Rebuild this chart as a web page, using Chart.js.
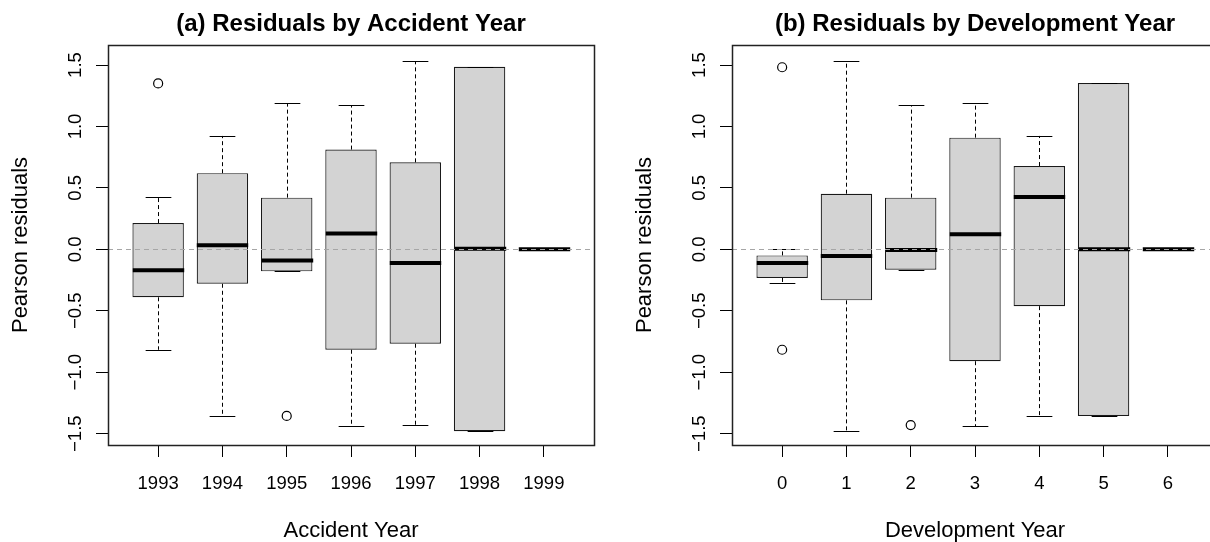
<!DOCTYPE html>
<html>
<head>
<meta charset="utf-8">
<script src="https://cdn.jsdelivr.net/npm/chart.js@4.4.0/dist/chart.umd.min.js"></script>
<style>
  html, body { margin: 0; padding: 0; background: #fff; }
  #page { position: relative; width: 1210px; height: 542px; overflow: hidden; }
  canvas { position: absolute; top: 0; }
</style>
</head>
<body>
<div id="page">
  <canvas id="accChart" width="605" height="542" style="left:0"></canvas>
  <canvas id="devChart" width="605" height="542" style="left:624px"></canvas>
</div>
<script>
// graduations de l'axe y
const yTicks = [-1.5, -1.0, -0.5, 0.0, 0.5, 1.0, 1.5];
const yTickLabels = ["\u22121.5", "\u22121.0", "\u22120.5", "0.0", "0.5", "1.0", "1.5"];

// (a) par année d'accident
const accYears = ["1993", "1994", "1995", "1996", "1997", "1998", "1999"];
const accLower = [-0.817, -1.355, -0.179, -1.439, -1.43, -1.48, 0];
const accQ1 = [-0.39, -0.28, -0.179, -0.817, -0.768, -1.48, 0];
const accMedian = [-0.17, 0.033, -0.09, 0.13, -0.11, 0.005, 0];
const accQ3 = [0.214, 0.62, 0.421, 0.812, 0.708, 1.485, 0];
const accUpper = [0.426, 0.923, 1.189, 1.173, 1.531, 1.485, 0];
const accOutCat = ["1993", "1995"];
const accOutVal = [1.35, -1.355];

// (b) par année de développement
const devYears = ["0", "1", "2", "3", "4", "5", "6"];
const devLower = [-0.277, -1.48, -0.165, -1.439, -1.355, -1.355, 0];
const devQ1 = [-0.233, -0.415, -0.165, -0.91, -0.462, -1.355, 0];
const devMedian = [-0.11, -0.054, -0.005, 0.122, 0.426, 0.0, 0];
const devQ3 = [-0.049, 0.453, 0.421, 0.909, 0.678, 1.354, 0];
const devUpper = [0.0, 1.531, 1.173, 1.189, 0.923, 1.354, 0];
const devOutCat = ["0", "0", "2"];
const devOutVal = [1.482, -0.817, -1.43];

Chart.defaults.font.family = "'Liberation Sans', Arial, sans-serif";
Chart.defaults.color = "#000";

// moustaches, médianes, ligne zéro, cadre et étiquettes y
function decor(cats, lower, q1, med, q3, upper) {
  return {
    id: "decor",
    afterDatasetsDraw(chart) {
      const { ctx, chartArea: a, scales: { x, y } } = chart;
      const bars = chart.getDatasetMeta(0).data;
      ctx.save();
      ctx.strokeStyle = "#000";
      cats.forEach((c, i) => {
        const cx = Math.round(x.getPixelForValue(i + 1)) + 0.5;
        const half = bars[i].width / 2;
        ctx.lineWidth = 1;
        ctx.setLineDash([4, 3]);
        ctx.beginPath();
        if (upper[i] > q3[i]) {
          ctx.moveTo(cx, y.getPixelForValue(q3[i]));
          ctx.lineTo(cx, y.getPixelForValue(upper[i]));
        }
        if (lower[i] < q1[i]) {
          ctx.moveTo(cx, y.getPixelForValue(q1[i]));
          ctx.lineTo(cx, y.getPixelForValue(lower[i]));
        }
        ctx.stroke();
        ctx.setLineDash([]);
        ctx.beginPath();
        [lower[i], upper[i]].forEach(v => {
          const py = Math.round(y.getPixelForValue(v)) + 0.5;
          ctx.moveTo(cx - half / 2, py);
          ctx.lineTo(cx + half / 2, py);
        });
        ctx.stroke();
        ctx.lineWidth = 4;
        ctx.beginPath();
        const pm = y.getPixelForValue(med[i]);
        ctx.moveTo(cx - half, pm);
        ctx.lineTo(cx + half, pm);
        ctx.stroke();
      });

      // ligne horizontale à zéro
      const p0 = Math.round(y.getPixelForValue(0)) + 0.5;
      ctx.strokeStyle = "#a6a6a6";
      ctx.lineWidth = 1;
      ctx.setLineDash([5, 4]);
      ctx.beginPath();
      ctx.moveTo(a.left, p0);
      ctx.lineTo(a.right, p0);
      ctx.stroke();

      ctx.setLineDash([]);
      ctx.strokeStyle = "#222";
      ctx.lineWidth = 1.5;
      ctx.strokeRect(a.left + 0.5, a.top + 0.5, a.right - a.left, a.bottom - a.top);

      ctx.fillStyle = "#000";
      ctx.font = "18.5px 'Liberation Sans', Arial, sans-serif";
      ctx.textAlign = "center";
      ctx.textBaseline = "alphabetic";
      yTicks.forEach((v, k) => {
        ctx.save();
        ctx.translate(a.left - 27, y.getPixelForValue(v));
        ctx.rotate(-Math.PI / 2);
        ctx.fillText(yTickLabels[k], 0, 0);
        ctx.restore();
      });
      ctx.restore();
    }
  };
}

function dessinerBoxplot(canvasId, titre, xTitre, cats, lower, q1, med, q3, upper, outCat, outVal) {
  const ctx = document.getElementById(canvasId).getContext("2d");
  return new Chart(ctx, {
    type: "bar",
    data: {
      datasets: [
        {
          label: "box",
          data: cats.map((c, i) => ({ x: i + 1, y: [q1[i], q3[i]] })),
          backgroundColor: "#d3d3d3",
          borderColor: "#1a1a1a",
          borderWidth: 1.2,
          borderSkipped: false,
          barPercentage: 0.8,
          categoryPercentage: 1.0
        },
        {
          type: "scatter",
          label: "outliers",
          data: outCat.map((c, i) => ({ x: cats.indexOf(c) + 1, y: outVal[i] })),
          pointStyle: "circle",
          pointRadius: 4.5,
          borderColor: "#000",
          backgroundColor: "rgba(0,0,0,0)",
          borderWidth: 1.2
        }
      ]
    },
    options: {
      responsive: false,
      animation: false,
      devicePixelRatio: 1,
      layout: { padding: { left: 0, right: 11, top: 0, bottom: 0 } },
      plugins: {
        legend: { display: false },
        tooltip: { enabled: false },
        title: {
          display: true,
          text: titre,
          fullSize: false,
          color: "#000",
          font: { size: 24, weight: "bold", lineHeight: 1.2 },
          padding: { top: 10, bottom: 6.2 }
        }
      },
      scales: {
        x: {
          type: "linear",
          min: 0.22,
          max: 7.78,
          offset: false,
          afterBuildTicks: s => { s.ticks = cats.map((c, i) => ({ value: i + 1 })); },
          afterFit: s => { s.height = 97; },
          grid: { drawOnChartArea: false, tickLength: 12, color: "#000", lineWidth: 1, offset: false },
          border: { display: false },
          ticks: {
            callback: (v, i) => cats[i],
            font: { size: 18.5, lineHeight: 1 },
            color: "#000",
            padding: 18,
            maxRotation: 0,
            autoSkip: false
          },
          title: {
            display: true,
            text: xTitre,
            color: "#000",
            font: { size: 22, lineHeight: 1 },
            padding: { top: 0, bottom: 0 }
          }
        },
        y: {
          type: "linear",
          min: -1.592,
          max: 1.663,
          afterBuildTicks: s => { s.ticks = yTicks.map(v => ({ value: v })); },
          afterFit: s => { s.width = 108; },
          grid: { drawOnChartArea: false, tickLength: 12, color: "#000", lineWidth: 1 },
          border: { display: false },
          ticks: { display: false },
          title: {
            display: true,
            text: "Pearson residuals",
            color: "#000",
            font: { size: 22, lineHeight: 1 },
            padding: { top: 10, bottom: 0 }
          }
        }
      }
    },
    plugins: [decor(cats, lower, q1, med, q3, upper)]
  });
}

dessinerBoxplot("accChart", "(a) Residuals by Accident Year", "Accident Year",
  accYears, accLower, accQ1, accMedian, accQ3, accUpper, accOutCat, accOutVal);
dessinerBoxplot("devChart", "(b) Residuals by Development Year", "Development Year",
  devYears, devLower, devQ1, devMedian, devQ3, devUpper, devOutCat, devOutVal);
</script>
</body>
</html>
